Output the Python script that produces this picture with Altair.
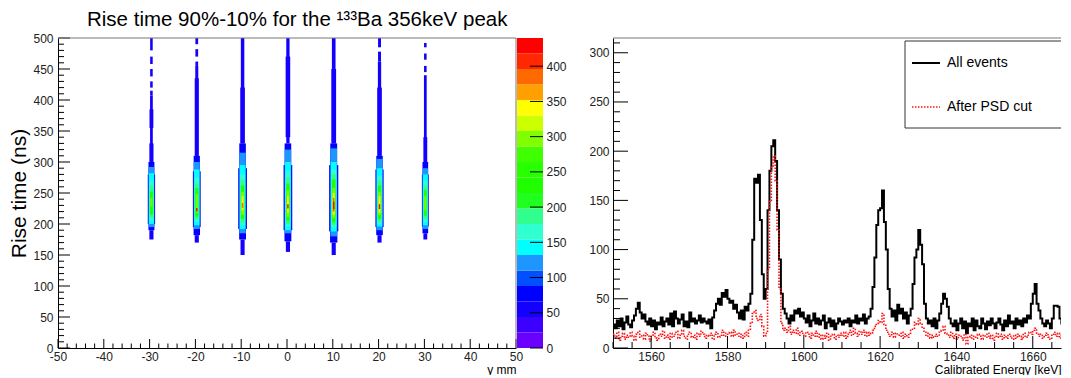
import altair as alt
import numpy as np
import pandas as pd

FONT = "Liberation Sans"

# ---------------- left panel: 2D histogram (rise time vs y) ----------------
col_centers = [-29.6, -19.7, -9.7, 0.2, 10.2, 20.2, 30.2]

# segments per column: (rise-time low [ns], rise-time high [ns], half-width [mm], counts)
col_m30 = [(480, 500, 0.28, 50), (458, 470, 0.28, 50), (438, 450, 0.28, 50), (420, 430, 0.28, 50),
           (407, 415, 0.28, 50), (300, 407, 0.3, 55), (355, 385, 0.42, 60), (300, 330, 0.45, 60),
           (175, 190, 0.45, 65), (190, 200, 0.65, 70), (200, 280, 0.8, 70), (280, 300, 0.65, 70),
           (195, 292, 0.63, 115), (200, 282, 0.55, 145),
           (205, 270, 0.48, 170), (210, 262, 0.42, 195), (215, 252, 0.32, 235), (228, 242, 0.2, 300)]
col_m20 = [(490, 500, 0.3, 50), (470, 482, 0.3, 50), (455, 462, 0.3, 50), (310, 455, 0.33, 55),
           (310, 435, 0.45, 60), (170, 182, 0.45, 65), (182, 195, 0.7, 70), (195, 285, 0.85, 70),
           (285, 310, 0.68, 70), (192, 300, 0.66, 115),
           (198, 288, 0.58, 145), (203, 275, 0.5, 170), (208, 265, 0.42, 195), (212, 258, 0.35, 240),
           (218, 248, 0.22, 300), (220, 226, 0.15, 420)]
col_m10 = [(330, 500, 0.38, 55), (330, 420, 0.5, 60), (150, 175, 0.45, 65), (175, 192, 0.75, 70),
           (192, 290, 0.95, 70), (290, 330, 0.72, 70), (185, 315, 0.7, 115),
           (192, 295, 0.62, 145), (198, 280, 0.55, 170), (202, 272, 0.45, 195),
           (208, 262, 0.36, 240), (215, 252, 0.26, 300), (222, 245, 0.2, 345), (226, 234, 0.15, 395)]
col_0 = [(330, 500, 0.36, 55), (340, 470, 0.5, 60), (155, 172, 0.45, 65), (172, 190, 0.75, 70),
         (190, 295, 0.95, 70), (295, 330, 0.72, 70), (185, 320, 0.7, 115),
         (190, 300, 0.62, 145), (196, 285, 0.55, 170), (200, 275, 0.45, 195),
         (205, 265, 0.36, 240), (212, 255, 0.26, 300), (218, 245, 0.2, 345), (225, 232, 0.15, 420)]
col_10 = [(330, 500, 0.4, 55), (330, 450, 0.52, 60), (150, 170, 0.45, 65), (170, 188, 0.8, 70),
          (188, 295, 1.0, 70), (295, 330, 0.75, 70), (180, 322, 0.73, 115),
          (188, 300, 0.64, 145), (194, 288, 0.56, 170), (198, 280, 0.47, 195),
          (203, 272, 0.38, 240), (210, 258, 0.28, 300), (215, 250, 0.22, 345), (220, 242, 0.18, 390),
          (224, 236, 0.15, 430)]
col_20 = [(485, 500, 0.32, 50), (462, 478, 0.32, 50), (310, 462, 0.36, 55), (310, 420, 0.5, 60),
          (170, 182, 0.45, 65), (182, 195, 0.72, 70), (195, 288, 0.9, 70), (288, 310, 0.7, 70),
          (190, 305, 0.68, 115), (196, 290, 0.6, 145),
          (200, 278, 0.52, 170), (204, 270, 0.44, 195), (208, 262, 0.36, 240), (214, 252, 0.26, 300),
          (218, 245, 0.2, 345), (224, 232, 0.15, 425)]
col_30 = [(485, 492, 0.28, 50), (465, 475, 0.28, 50), (445, 455, 0.28, 50), (300, 440, 0.3, 55),
          (300, 340, 0.42, 60), (175, 185, 0.42, 65), (185, 196, 0.62, 70), (196, 280, 0.75, 70),
          (280, 300, 0.62, 70), (192, 290, 0.6, 115),
          (198, 280, 0.53, 145), (203, 270, 0.46, 170), (208, 262, 0.38, 195), (213, 255, 0.3, 235),
          (222, 245, 0.2, 295)]
columns = [col_m30, col_m20, col_m10, col_0, col_10, col_20, col_30]

# colour palette (20 contour levels, 0 .. 440 counts)
palette = ["#6a00ff", "#3c00ff", "#1400ff", "#0000ff", "#0050ff", "#1e96ff", "#00ffff",
           "#30ffd0", "#30ff90", "#20ff20", "#20ff00", "#28ff00", "#40ff00", "#80ff00",
           "#ccff00", "#ffff00", "#ffa000", "#ff6a00", "#ff2800", "#ff0000"]
z_max = 440
cbar_labels = [0, 50, 100, 150, 200, 250, 300, 350, 400]
x_labels_left = [-50, -40, -30, -20, -10, 0, 10, 20, 30, 40, 50]
y_labels_left = [0, 50, 100, 150, 200, 250, 300, 350, 400, 450, 500]

# ---------------- right panel: energy spectrum ----------------
e_start, e_step = 1550.0, 0.5
all_events = [
    24, 20, 28, 22, 30, 19, 26, 32, 24, 21,
    28, 33, 40, 46, 36, 30, 34, 27, 24, 30,
    22, 28, 19, 26, 24, 31, 22, 27, 30, 24,
    35, 22, 37, 30, 25, 29, 34, 22, 27, 21,
    36, 27, 30, 25, 28, 33, 26, 30, 27, 25,
    29, 20, 31, 38, 45, 50, 44, 56, 52, 59,
    50, 46, 48, 40, 44, 36, 30, 38, 29, 42,
    38, 45, 55, 110, 172, 168, 176, 130, 75, 50,
    60, 140, 180, 205, 211, 190, 140, 90, 55, 40,
    35, 30, 25, 33, 28, 38, 35, 40, 32, 36,
    30, 26, 33, 22, 28, 35, 25, 30, 24, 28,
    33, 20, 26, 30, 22, 28, 19, 25, 30, 27,
    24, 28, 26, 30, 22, 28, 26, 33, 25, 30,
    28, 34, 25, 30, 32, 40, 62, 92, 125, 140,
    142, 160, 128, 100, 60, 40, 32, 38, 28, 44,
    35, 40, 30, 36, 25, 33, 40, 65, 92, 100,
    120, 105, 85, 45, 30, 25, 28, 22, 30, 20,
    28, 35, 45, 55, 50, 42, 30, 25, 22, 28,
    18, 25, 30, 20, 27, 15, 25, 22, 30, 18,
    28, 22, 20, 30, 25, 19, 27, 23, 30, 25,
    20, 26, 30, 24, 18, 28, 22, 33, 25, 27,
    20, 30, 24, 28, 22, 30, 26, 33, 30, 45,
    55, 65, 45, 38, 30, 25, 22, 28, 25, 20,
    30, 43, 43, 42, 30, 25, 20, 22, 25, 22,
]
after_psd = [
    14, 10, 16, 8, 12, 15, 9, 13, 11, 16,
    12, 8, 14, 17, 11, 13, 9, 15, 12, 7,
    13, 16, 10, 8, 14, 12, 17, 10, 13, 9,
    15, 11, 14, 17, 10, 13, 18, 12, 9, 14,
    16, 11, 13, 9, 15, 12, 17, 14, 10, 13,
    12, 15, 9, 14, 16, 11, 13, 18, 12, 15,
    14, 16, 12, 18, 13, 15, 11, 14, 10, 16,
    12, 18, 25, 35, 38, 30, 28, 34, 22, 12,
    15, 80, 150, 185, 195, 170, 120, 60, 25, 18,
    20, 16, 22, 14, 18, 15, 20, 13, 17, 15,
    12, 16, 14, 10, 15, 12, 17, 11, 14, 9,
    13, 10, 15, 8, 12, 14, 9, 13, 11, 15,
    12, 16, 10, 14, 18, 13, 20, 15, 12, 17,
    14, 18, 12, 16, 13, 15, 18, 22, 25, 28,
    26, 35, 24, 18, 14, 12, 16, 11, 15, 13,
    12, 16, 10, 14, 11, 15, 18, 20, 26, 24,
    30, 25, 20, 16, 12, 15, 10, 13, 11, 14,
    12, 16, 18, 22, 15, 13, 11, 16, 10, 14,
    9, 13, 12, 8, 14, 4, 11, 13, 9, 12,
    10, 14, 12, 9, 13, 11, 15, 10, 13, 8,
    12, 15, 11, 14, 9, 13, 10, 14, 12, 9,
    13, 10, 14, 12, 9, 15, 11, 13, 16, 14,
    18, 20, 15, 12, 14, 10, 13, 15, 11, 9,
    14, 16, 12, 15, 10, 13, 11, 14, 12, 10,
]
x_labels_right = [1560, 1580, 1600, 1620, 1640, 1660]
y_labels_right = [0, 50, 100, 150, 200, 250, 300]
legend_labels = ["All events", "After PSD cut"]

# ---------------- build tables ----------------
rows = []
for xc, segs in zip(col_centers, columns):
    for lo, hi, hw, v in segs:
        rows.append({"x1": xc - hw, "x2": xc + hw, "y1": lo, "y2": hi, "val": v})
heat_df = pd.DataFrame(rows).sort_values("val", kind="stable").reset_index(drop=True)

band = z_max / len(palette)
cbar_df = pd.DataFrame({"lo": [i * band for i in range(len(palette))]})
cbar_df["hi"] = cbar_df["lo"] + band
cbar_df["val"] = cbar_df["lo"] + band / 2

W_L, W_R, H = 458, 448, 310
E_MAX = 1667.4
FRAME = "#777"
LBL = "'' + datum.value"

xs_l = alt.Scale(domain=[-50, 50], nice=False, zero=False)
ys_l = alt.Scale(domain=[0, 500], nice=False, zero=False)
cs = alt.Scale(type="quantize", domain=[0, z_max], range=palette, nice=False)
cbs = alt.Scale(domain=[0, z_max], nice=False, zero=False)

x_axis_l = alt.Axis(values=x_labels_left, title="y mm", titleAnchor="end", titleFontSize=12,
                    titlePadding=2, labelPadding=3, labelExpr=LBL)
y_axis_l = alt.Axis(values=y_labels_left, title="Rise time (ns)", titleFontSize=21,
                    titlePadding=3, labelPadding=5, labelExpr=LBL)
cb_axis = alt.Axis(values=cbar_labels, orient="right", offset=27, title=None, domain=False,
                   labelPadding=3, labelExpr=LBL)

cells = alt.Chart(heat_df).mark_rect().encode(
    x=alt.X("x1:Q", scale=xs_l, axis=x_axis_l),
    x2="x2:Q",
    y=alt.Y("y1:Q", scale=ys_l, axis=y_axis_l),
    y2="y2:Q",
    color=alt.Color("val:Q", scale=cs, legend=None),
)

yt_l = pd.DataFrame({"v": list(range(0, 501, 10))})
yt_l["major"] = yt_l["v"] % 50 == 0
xt_l = pd.DataFrame({"v": list(range(-50, 51, 2))})
xt_l["major"] = xt_l["v"] % 10 == 0

ytick_maj_l = alt.Chart(yt_l[yt_l.major]).mark_rule(color="black").encode(
    y=alt.Y("v:Q", scale=ys_l, axis=y_axis_l), x=alt.value(0), x2=alt.value(12))
ytick_min_l = alt.Chart(yt_l[~yt_l.major]).mark_rule(color="black").encode(
    y=alt.Y("v:Q", scale=ys_l, axis=y_axis_l), x=alt.value(0), x2=alt.value(6))
xtick_maj_l = alt.Chart(xt_l[xt_l.major]).mark_rule(color="black").encode(
    x=alt.X("v:Q", scale=xs_l, axis=x_axis_l), y=alt.value(H), y2=alt.value(H - 9))
xtick_min_l = alt.Chart(xt_l[~xt_l.major]).mark_rule(color="black").encode(
    x=alt.X("v:Q", scale=xs_l, axis=x_axis_l), y=alt.value(H), y2=alt.value(H - 4.5))

one = pd.DataFrame({"a": [0]})
frame_top_l = alt.Chart(one).mark_rule(color=FRAME).encode(
    x=alt.value(0), x2=alt.value(W_L), y=alt.value(0))
frame_right_l = alt.Chart(one).mark_rule(color=FRAME).encode(
    x=alt.value(W_L), y=alt.value(0), y2=alt.value(H))

heat_layer = alt.layer(cells, ytick_maj_l, ytick_min_l, xtick_maj_l, xtick_min_l,
                       frame_top_l, frame_right_l)

cbar_rects = alt.Chart(cbar_df).mark_rect().encode(
    y=alt.Y("lo:Q", scale=cbs, axis=cb_axis),
    y2="hi:Q",
    x=alt.value(W_L + 1), x2=alt.value(W_L + 27),
    color=alt.Color("val:Q", scale=cs, legend=None),
)
cbt = pd.DataFrame({"v": cbar_labels})
cbar_ticks = alt.Chart(cbt).mark_rule(color="black").encode(
    y=alt.Y("v:Q", scale=cbs, axis=cb_axis), x=alt.value(W_L + 14), x2=alt.value(W_L + 27))
cbar_layer = alt.layer(cbar_rects, cbar_ticks)

left = alt.layer(heat_layer, cbar_layer).resolve_scale(y="independent").properties(
    width=W_L, height=H)

# ---------------- right panel ----------------
n = len(all_events)
energies = [e_start + e_step * i for i in range(n)] + [e_start + e_step * n]
spec_df = pd.DataFrame({
    "E": energies,
    "all": all_events + [all_events[-1]],
    "psd": after_psd + [after_psd[-1]],
})

xs_r = alt.Scale(domain=[1550, E_MAX], nice=False, zero=False)
ys_r = alt.Scale(domain=[0, 315], nice=False, zero=False)
x_axis_r = alt.Axis(values=x_labels_right, title="Calibrated Energy [keV]", titleAnchor="end",
                    titleFontSize=12, titlePadding=2, labelPadding=3, labelExpr=LBL)
y_axis_r = alt.Axis(values=y_labels_right, title=None, labelPadding=4, labelExpr=LBL)

line_all = alt.Chart(spec_df).mark_line(
    interpolate="step-after", color="black", strokeWidth=2, clip=True).encode(
    x=alt.X("E:Q", scale=xs_r, axis=x_axis_r),
    y=alt.Y("all:Q", scale=ys_r, axis=y_axis_r))
line_psd = alt.Chart(spec_df).mark_line(
    interpolate="step-after", color="#ff1010", strokeWidth=1.6, strokeDash=[1.5, 1.5],
    clip=True).encode(
    x=alt.X("E:Q", scale=xs_r, axis=x_axis_r),
    y=alt.Y("psd:Q", scale=ys_r, axis=y_axis_r))

yt_r = pd.DataFrame({"v": list(range(0, 311, 10))})
yt_r["major"] = yt_r["v"] % 50 == 0
xt_r = pd.DataFrame({"v": list(range(1550, 1666, 5))})
xt_r["major"] = xt_r["v"] % 20 == 0

ytick_maj_r = alt.Chart(yt_r[yt_r.major]).mark_rule(color="black").encode(
    y=alt.Y("v:Q", scale=ys_r, axis=y_axis_r), x=alt.value(0), x2=alt.value(15))
ytick_min_r = alt.Chart(yt_r[~yt_r.major]).mark_rule(color="black").encode(
    y=alt.Y("v:Q", scale=ys_r, axis=y_axis_r), x=alt.value(0), x2=alt.value(7))
xtick_maj_r = alt.Chart(xt_r[xt_r.major]).mark_rule(color="black").encode(
    x=alt.X("v:Q", scale=xs_r, axis=x_axis_r), y=alt.value(H), y2=alt.value(H - 12))
xtick_min_r = alt.Chart(xt_r[~xt_r.major]).mark_rule(color="black").encode(
    x=alt.X("v:Q", scale=xs_r, axis=x_axis_r), y=alt.value(H), y2=alt.value(H - 6))

frame_top_r = alt.Chart(one).mark_rule(color=FRAME).encode(
    x=alt.value(0), x2=alt.value(W_R), y=alt.value(0))

leg_box = alt.Chart(one).mark_rect(fill="white", stroke="#333", strokeWidth=1, clip=True).encode(
    x=alt.value(292), x2=alt.value(W_R + 10), y=alt.value(3), y2=alt.value(90))
leg_line1 = alt.Chart(one).mark_rule(color="black", strokeWidth=2).encode(
    x=alt.value(299), x2=alt.value(327), y=alt.value(25))
leg_line2 = alt.Chart(one).mark_rule(color="#ff1010", strokeWidth=1.6,
                                     strokeDash=[1.5, 1.5]).encode(
    x=alt.value(299), x2=alt.value(327), y=alt.value(69))
leg_text1 = alt.Chart(one).mark_text(align="left", baseline="middle", fontSize=14, font=FONT,
                                     color="black", text=legend_labels[0]).encode(
    x=alt.value(334), y=alt.value(25))
leg_text2 = alt.Chart(one).mark_text(align="left", baseline="middle", fontSize=14, font=FONT,
                                     color="black", text=legend_labels[1]).encode(
    x=alt.value(334), y=alt.value(69))

right = alt.layer(line_all, line_psd, ytick_maj_r, ytick_min_r, xtick_maj_r, xtick_min_r,
                  frame_top_r, leg_box, leg_line1, leg_line2, leg_text1, leg_text2).properties(
    width=W_R, height=H)

chart = alt.hconcat(left, right, spacing=97, bounds="flush").properties(
    padding={"top": 1, "left": 0, "right": 0, "bottom": 0},
    title=alt.TitleParams("Rise time 90%-10% for the \u00b9\u00b3\u00b3Ba 356keV peak",
                          anchor="start", dx=78, fontSize=20.5, font=FONT, fontWeight="normal",
                          color="black", offset=2),
).configure_view(stroke=None).configure_axis(
    labelFont=FONT, labelFontSize=12, labelColor="#222", titleFont=FONT, titleColor="#000",
    titleFontWeight="normal", ticks=False, tickSize=0, grid=False, domainColor="#000",
    domainWidth=1, labelFlush=False, labelOverlap=False,
).configure_title(font=FONT)

chart.save("out.html", embed_options={"renderer": "svg", "actions": False})
